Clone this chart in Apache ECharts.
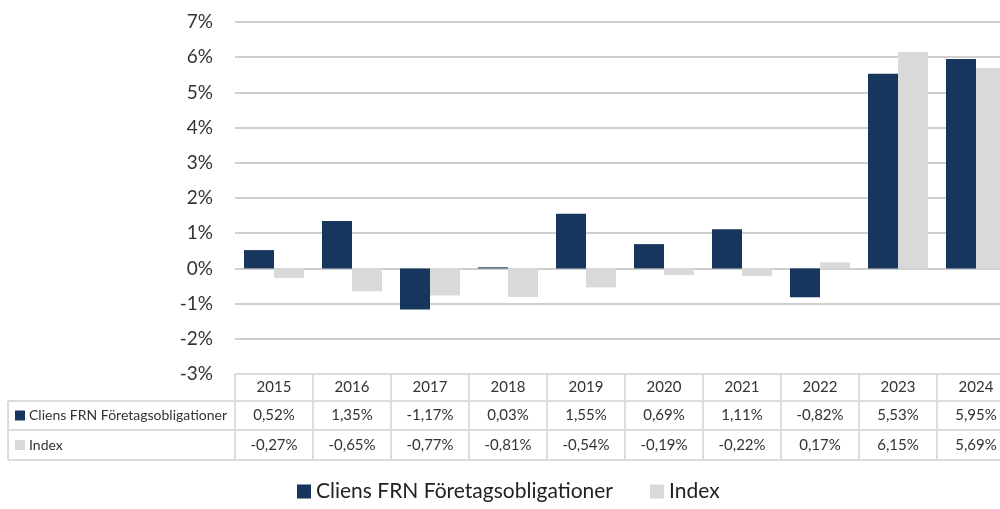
<!DOCTYPE html>
<html>
<head>
<meta charset="utf-8">
<script src="https://cdn.jsdelivr.net/npm/echarts@6/dist/echarts.min.js"></script>
<style>
  html, body { margin: 0; padding: 0; background: #fff; }
  #chart { width: 1000px; height: 509px; }
</style>
</head>
<body>
<div id="chart"></div>
<script>
// data
var years = ["2015", "2016", "2017", "2018", "2019", "2020", "2021", "2022", "2023", "2024"];
var fundName = "Cliens FRN Företagsobligationer";
var indexName = "Index";
var fundValues = [0.52, 1.35, -1.17, 0.03, 1.55, 0.69, 1.11, -0.82, 5.53, 5.95];
var indexValues = [-0.27, -0.65, -0.77, -0.81, -0.54, -0.19, -0.22, 0.17, 6.15, 5.69];

var BLUE = "#17365d";
var GRAY = "#d9d9d9";
var LINE = "#dcdcdc";
var FONT = "Lato, 'Open Sans', sans-serif";

function pct(v) {
  return v.toFixed(2).replace(".", ",") + "%";
}

var chart = echarts.init(document.getElementById("chart"));

var option = {
  animation: false,
  textStyle: { fontFamily: FONT },
  // the plot runs a bit past the right edge of the picture
  grid: { left: 235, width: 780, top: 22, bottom: 135, outerBoundsMode: "none" },
  legend: {
    bottom: 2,
    left: 292,
    icon: "rect",
    itemWidth: 14,
    itemHeight: 14,
    itemGap: 37,
    textStyle: { fontSize: 21, color: "#222", fontFamily: FONT },
    data: [fundName, indexName]
  },
  xAxis: {
    type: "category",
    data: years,
    axisLine: { show: false },
    axisTick: { show: false },
    axisLabel: { show: false }
  },
  yAxis: {
    type: "value",
    min: -3,
    max: 7,
    interval: 1,
    axisLine: { show: false },
    axisTick: { show: false },
    axisLabel: {
      formatter: "{value}%",
      fontSize: 19,
      color: "#333",
      margin: 22,
      fontFamily: FONT
    },
    splitLine: { lineStyle: { color: "#cfcfcf", width: 2 } }
  },
  series: [
    {
      name: fundName,
      type: "bar",
      data: fundValues,
      barWidth: 30,
      barGap: "0%",
      itemStyle: { color: BLUE }
    },
    {
      name: indexName,
      type: "bar",
      data: indexValues,
      barWidth: 30,
      itemStyle: { color: GRAY }
    }
  ]
};

chart.setOption(option);

// data table below the chart, positioned from the category axis
function buildTable() {
  var els = [];
  var colW = chart.convertToPixel({ xAxisIndex: 0 }, 1) - chart.convertToPixel({ xAxisIndex: 0 }, 0);
  var firstLeft = chart.convertToPixel({ xAxisIndex: 0 }, 0) - colW / 2;
  var lastRight = chart.convertToPixel({ xAxisIndex: 0 }, years.length - 1) + colW / 2;
  var yTop = chart.convertToPixel({ yAxisIndex: 0 }, -3);
  var rowYs = [yTop, 401, 430, 460];
  var leftX = 8;
  var ls = { stroke: LINE, lineWidth: 2 };

  // horizontal lines
  els.push({ type: "line", shape: { x1: firstLeft, y1: rowYs[0], x2: lastRight, y2: rowYs[0] }, style: ls });
  for (var r = 1; r < rowYs.length; r++) {
    els.push({ type: "line", shape: { x1: leftX, y1: rowYs[r], x2: lastRight, y2: rowYs[r] }, style: ls });
  }
  // vertical lines
  els.push({ type: "line", shape: { x1: leftX, y1: rowYs[1], x2: leftX, y2: rowYs[3] }, style: ls });
  for (var c = 0; c <= years.length; c++) {
    var x = firstLeft + c * colW;
    els.push({ type: "line", shape: { x1: x, y1: rowYs[0], x2: x, y2: rowYs[3] }, style: ls });
  }

  var rows = [
    years,
    fundValues.map(pct),
    indexValues.map(pct)
  ];
  for (var ri = 0; ri < rows.length; ri++) {
    var cy = (rowYs[ri] + rowYs[ri + 1]) / 2;
    for (var i = 0; i < rows[ri].length; i++) {
      els.push({
        type: "text",
        x: chart.convertToPixel({ xAxisIndex: 0 }, i),
        y: cy,
        style: {
          text: rows[ri][i],
          fontSize: 15,
          fontFamily: FONT,
          fill: "#333",
          align: "center",
          verticalAlign: "middle"
        }
      });
    }
  }

  // row labels with colour keys
  var labels = [[fundName, BLUE], [indexName, GRAY]];
  for (var k = 0; k < labels.length; k++) {
    var my = (rowYs[k + 1] + rowYs[k + 2]) / 2;
    els.push({ type: "rect", shape: { x: 15, y: my - 5, width: 10, height: 10 }, style: { fill: labels[k][1] } });
    els.push({
      type: "text",
      x: 29,
      y: my,
      style: {
        text: labels[k][0],
        fontSize: 14,
        fontFamily: FONT,
        fill: "#333",
        align: "left",
        verticalAlign: "middle"
      }
    });
  }
  chart.setOption({ graphic: els });
}

buildTable();
</script>
</body>
</html>
